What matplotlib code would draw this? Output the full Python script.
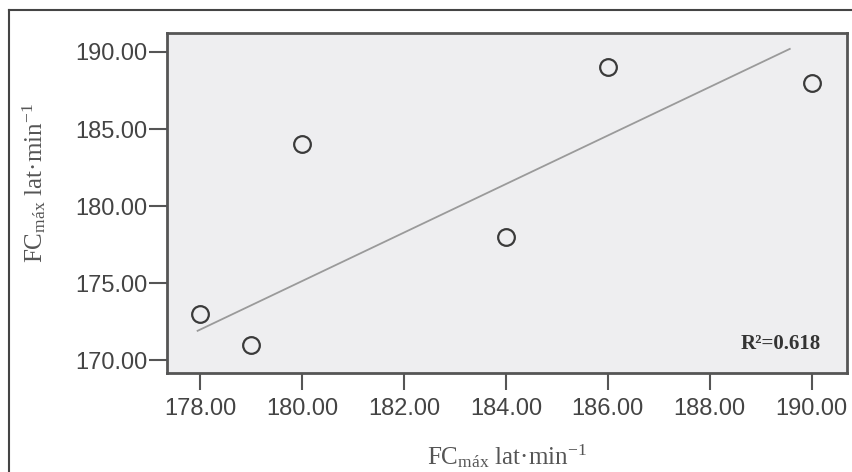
import matplotlib
matplotlib.use("Agg")
import matplotlib.pyplot as plt
from matplotlib.lines import Line2D

# === data ===
fc_x = [178, 179, 180, 184, 186, 190]
fc_y = [173, 171, 184, 178, 189, 188]
fit_x = [177.95, 189.57]
fit_y = [171.9, 190.2]
x_ticks = [178, 180, 182, 184, 186, 188, 190]
y_ticks = [170, 175, 180, 185, 190]
r2_text = "R²=0.618"

dark = "#3a3a3a"

plt.rcParams["mathtext.fontset"] = "custom"
plt.rcParams["mathtext.rm"] = "Liberation Serif"
plt.rcParams["mathtext.it"] = "Liberation Serif:italic"
plt.rcParams["mathtext.bf"] = "Liberation Serif:bold"

fig = plt.figure(figsize=(8.53, 4.72), dpi=100)
fig.patch.set_facecolor("white")
ax = fig.add_axes([0.1958, 0.2097, 0.797, 0.7203])
ax.set_facecolor("#eeeef0")

ax.plot(fit_x, fit_y, color="#9a9a9a", linewidth=1.3, zorder=2)
ax.plot(fc_x, fc_y, linestyle="none", marker="o", markersize=12,
        markerfacecolor="none", markeredgecolor=dark, markeredgewidth=1.6, zorder=3)

ax.set_xlim(177.35, 190.69)
ax.set_ylim(169.16, 191.23)
ax.set_xticks(x_ticks)
ax.set_yticks(y_ticks)
ax.set_xticklabels([f"{v:.2f}" for v in x_ticks])
ax.set_yticklabels([f"{v:.2f}" for v in y_ticks])

for s in ax.spines.values():
    s.set_color("#555555")
    s.set_linewidth(2)

ax.tick_params(axis="x", length=12, width=1.5, color="#555555", pad=6,
               labelsize=17, labelcolor="#444444")
ax.tick_params(axis="y", length=13, width=1.5, color="#555555", pad=1,
               labelsize=17, labelcolor="#444444")
for lab in ax.get_xticklabels() + ax.get_yticklabels():
    lab.set_family("Liberation Sans")

label = r"FC$_{\mathrm{máx}}$ lat·min$^{\mathrm{-1}}$"
ax.set_xlabel(label, fontsize=18, family="Liberation Serif", color="#555555", labelpad=16)
ax.set_ylabel(label, fontsize=18, family="Liberation Serif", color="#555555")
ax.yaxis.set_label_coords(-0.175, 0.56)

ax.text(0.962, 0.055, r2_text, transform=ax.transAxes, ha="right", va="bottom",
        fontsize=15, fontweight="bold", family="Liberation Serif", color="#333333")

# outer frame (top and left edges only)
fig.add_artist(Line2D([0.0106, 1.0], [0.979, 0.979], transform=fig.transFigure,
                      color="#444444", linewidth=1.5))
fig.add_artist(Line2D([0.0106, 0.0106], [0.0, 0.979], transform=fig.transFigure,
                      color="#444444", linewidth=1.5))

fig.savefig("out.png", dpi=100)
plt.close(fig)
